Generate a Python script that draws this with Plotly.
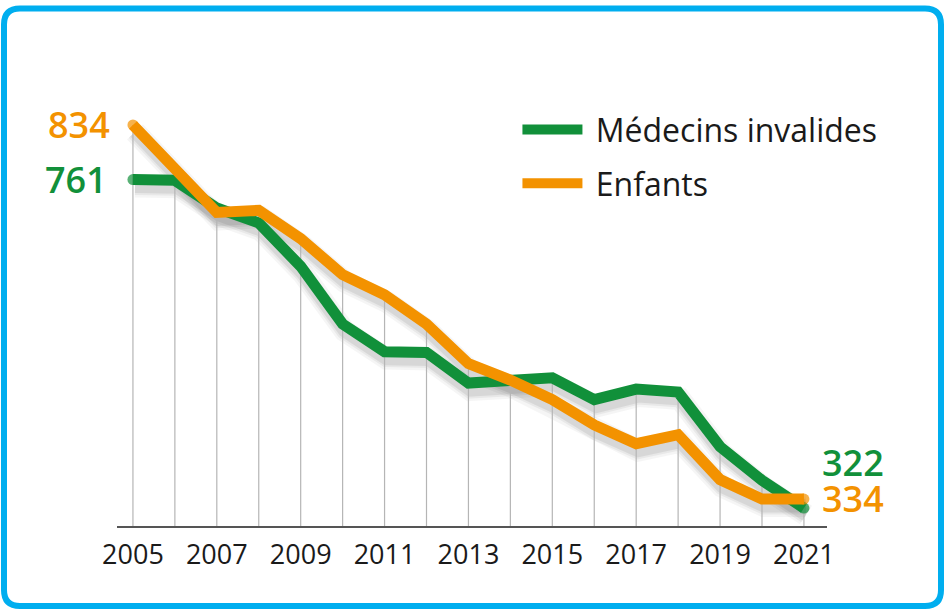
import plotly.graph_objects as go

years = list(range(2005, 2022))
medecins = [761, 760, 723, 703, 645, 568, 531, 530, 489, 493, 496, 467, 481, 477, 404, 359, 322]
enfants = [834, 774, 717, 720, 682, 634, 607, 568, 515, 493, 467, 433, 408, 420, 360, 334, 334]
tick_years = [2005, 2007, 2009, 2011, 2013, 2015, 2017, 2019, 2021]
series_names = ["Médecins invalides", "Enfants"]

GREEN = "#11903A"
ORANGE = "#F39200"
FONT = "Open Sans"

X_RANGE = [2004.62, 2021.55]
Y_RANGE = [298, 870]
PX_PER_YEAR = 710 / (X_RANGE[1] - X_RANGE[0])
PX_PER_UNIT = 428 / (Y_RANGE[1] - Y_RANGE[0])
SHADOW_DX, SHADOW_DY = 2, 7

fig = go.Figure()

# soft shadows (drawn on shifted base axes)
for vals in (medecins, enfants):
    for w, a in ((22, 0.04), (17, 0.05), (13, 0.07)):
        fig.add_trace(go.Scatter(x=years, y=vals, mode="lines", xaxis="x", yaxis="y",
                                 line=dict(color=f"rgba(0,0,0,{a})", width=w),
                                 showlegend=False, hoverinfo="skip"))

# drop lines from the highest series down to the axis
gx, gy = [], []
for yr, a, b in zip(years, medecins, enfants):
    gx += [yr, yr, None]
    gy += [max(a, b), Y_RANGE[0], None]
fig.add_trace(go.Scatter(x=gx, y=gy, mode="lines", xaxis="x2", yaxis="y2",
                         line=dict(color="#b5b5b5", width=1.2),
                         showlegend=False, hoverinfo="skip"))

n = len(years)
end_sizes = [11] + [0] * (n - 2) + [11]
for name, vals, col, grp in ((series_names[0], medecins, GREEN, "g1"),
                             (series_names[1], enfants, ORANGE, "g2")):
    fig.add_trace(go.Scatter(x=years, y=vals, mode="lines+markers", name="\u00a0" + name,
                             xaxis="x2", yaxis="y2", legendgroup=grp,
                             line=dict(color=col, width=11),
                             marker=dict(color=col, size=end_sizes, line=dict(width=0)),
                             hoverinfo="skip"))

# value labels
label_font = dict(family=FONT, size=36, weight=600)
fig.add_annotation(x=years[0], y=enfants[0], xref="x2", yref="y2", text=str(enfants[0]),
                   showarrow=False, xanchor="right", yanchor="middle", xshift=-21, yshift=0,
                   font=dict(color=ORANGE, **label_font))
fig.add_annotation(x=years[0], y=medecins[0], xref="x2", yref="y2", text=str(medecins[0]),
                   showarrow=False, xanchor="right", yanchor="middle", xshift=-24, yshift=0,
                   font=dict(color=GREEN, **label_font))
fig.add_annotation(x=years[-1], y=medecins[-1], xref="x2", yref="y2", text=str(medecins[-1]),
                   showarrow=False, xanchor="left", yanchor="middle", xshift=16, yshift=46,
                   height=30, valign="middle",
                   font=dict(color=GREEN, **label_font))
fig.add_annotation(x=years[-1], y=enfants[-1], xref="x2", yref="y2", text=str(enfants[-1]),
                   showarrow=False, xanchor="left", yanchor="middle", xshift=16, yshift=1,
                   height=30, valign="middle",
                   font=dict(color=ORANGE, **label_font))

# rounded cyan frame (pixel coords relative to plot bottom-left)
L, R, T, B, r = -113, 824, 517.5, -80, 16
path = (f"M{L+r},{T} L{R-r},{T} Q{R},{T} {R},{T-r} L{R},{B+r} Q{R},{B} {R-r},{B} "
        f"L{L+r},{B} Q{L},{B} {L},{B+r} L{L},{T-r} Q{L},{T} {L+r},{T} Z")
fig.add_shape(type="path", path=path, xref="paper", yref="paper",
              xsizemode="pixel", ysizemode="pixel", xanchor=0, yanchor=0,
              line=dict(color="#00AEEF", width=6), layer="above")

fig.update_layout(
    width=945, height=610,
    margin=dict(l=117, r=118, t=98, b=84),
    paper_bgcolor="white", plot_bgcolor="white",
    font=dict(family=FONT, color="#1a1a1a"),
    xaxis=dict(range=[X_RANGE[0] - SHADOW_DX / PX_PER_YEAR, X_RANGE[1] - SHADOW_DX / PX_PER_YEAR],
               visible=False, fixedrange=True),
    yaxis=dict(range=[Y_RANGE[0] + SHADOW_DY / PX_PER_UNIT, Y_RANGE[1] + SHADOW_DY / PX_PER_UNIT],
               visible=False, fixedrange=True),
    xaxis2=dict(range=X_RANGE, overlaying="x", anchor="y2", side="bottom",
                tickvals=tick_years, ticktext=[str(t) for t in tick_years],
                showgrid=False, zeroline=False, showline=True, linecolor="#555555", linewidth=2,
                ticks="", ticklabelstandoff=4,
                tickfont=dict(family=FONT, size=27, color="#1a1a1a")),
    yaxis2=dict(range=Y_RANGE, overlaying="y", anchor="x2", visible=False),
    legend=dict(x=0.564, y=0.99, xanchor="left", yanchor="top",
                traceorder="grouped", tracegroupgap=9, itemwidth=60,
                font=dict(family=FONT, size=32, color="#1a1a1a"),
                bgcolor="rgba(0,0,0,0)"),
    showlegend=True,
)

fig.write_html("out.html", config={"displayModeBar": False},
               post_script="document.body.style.margin='0';document.body.style.overflow='hidden';")
